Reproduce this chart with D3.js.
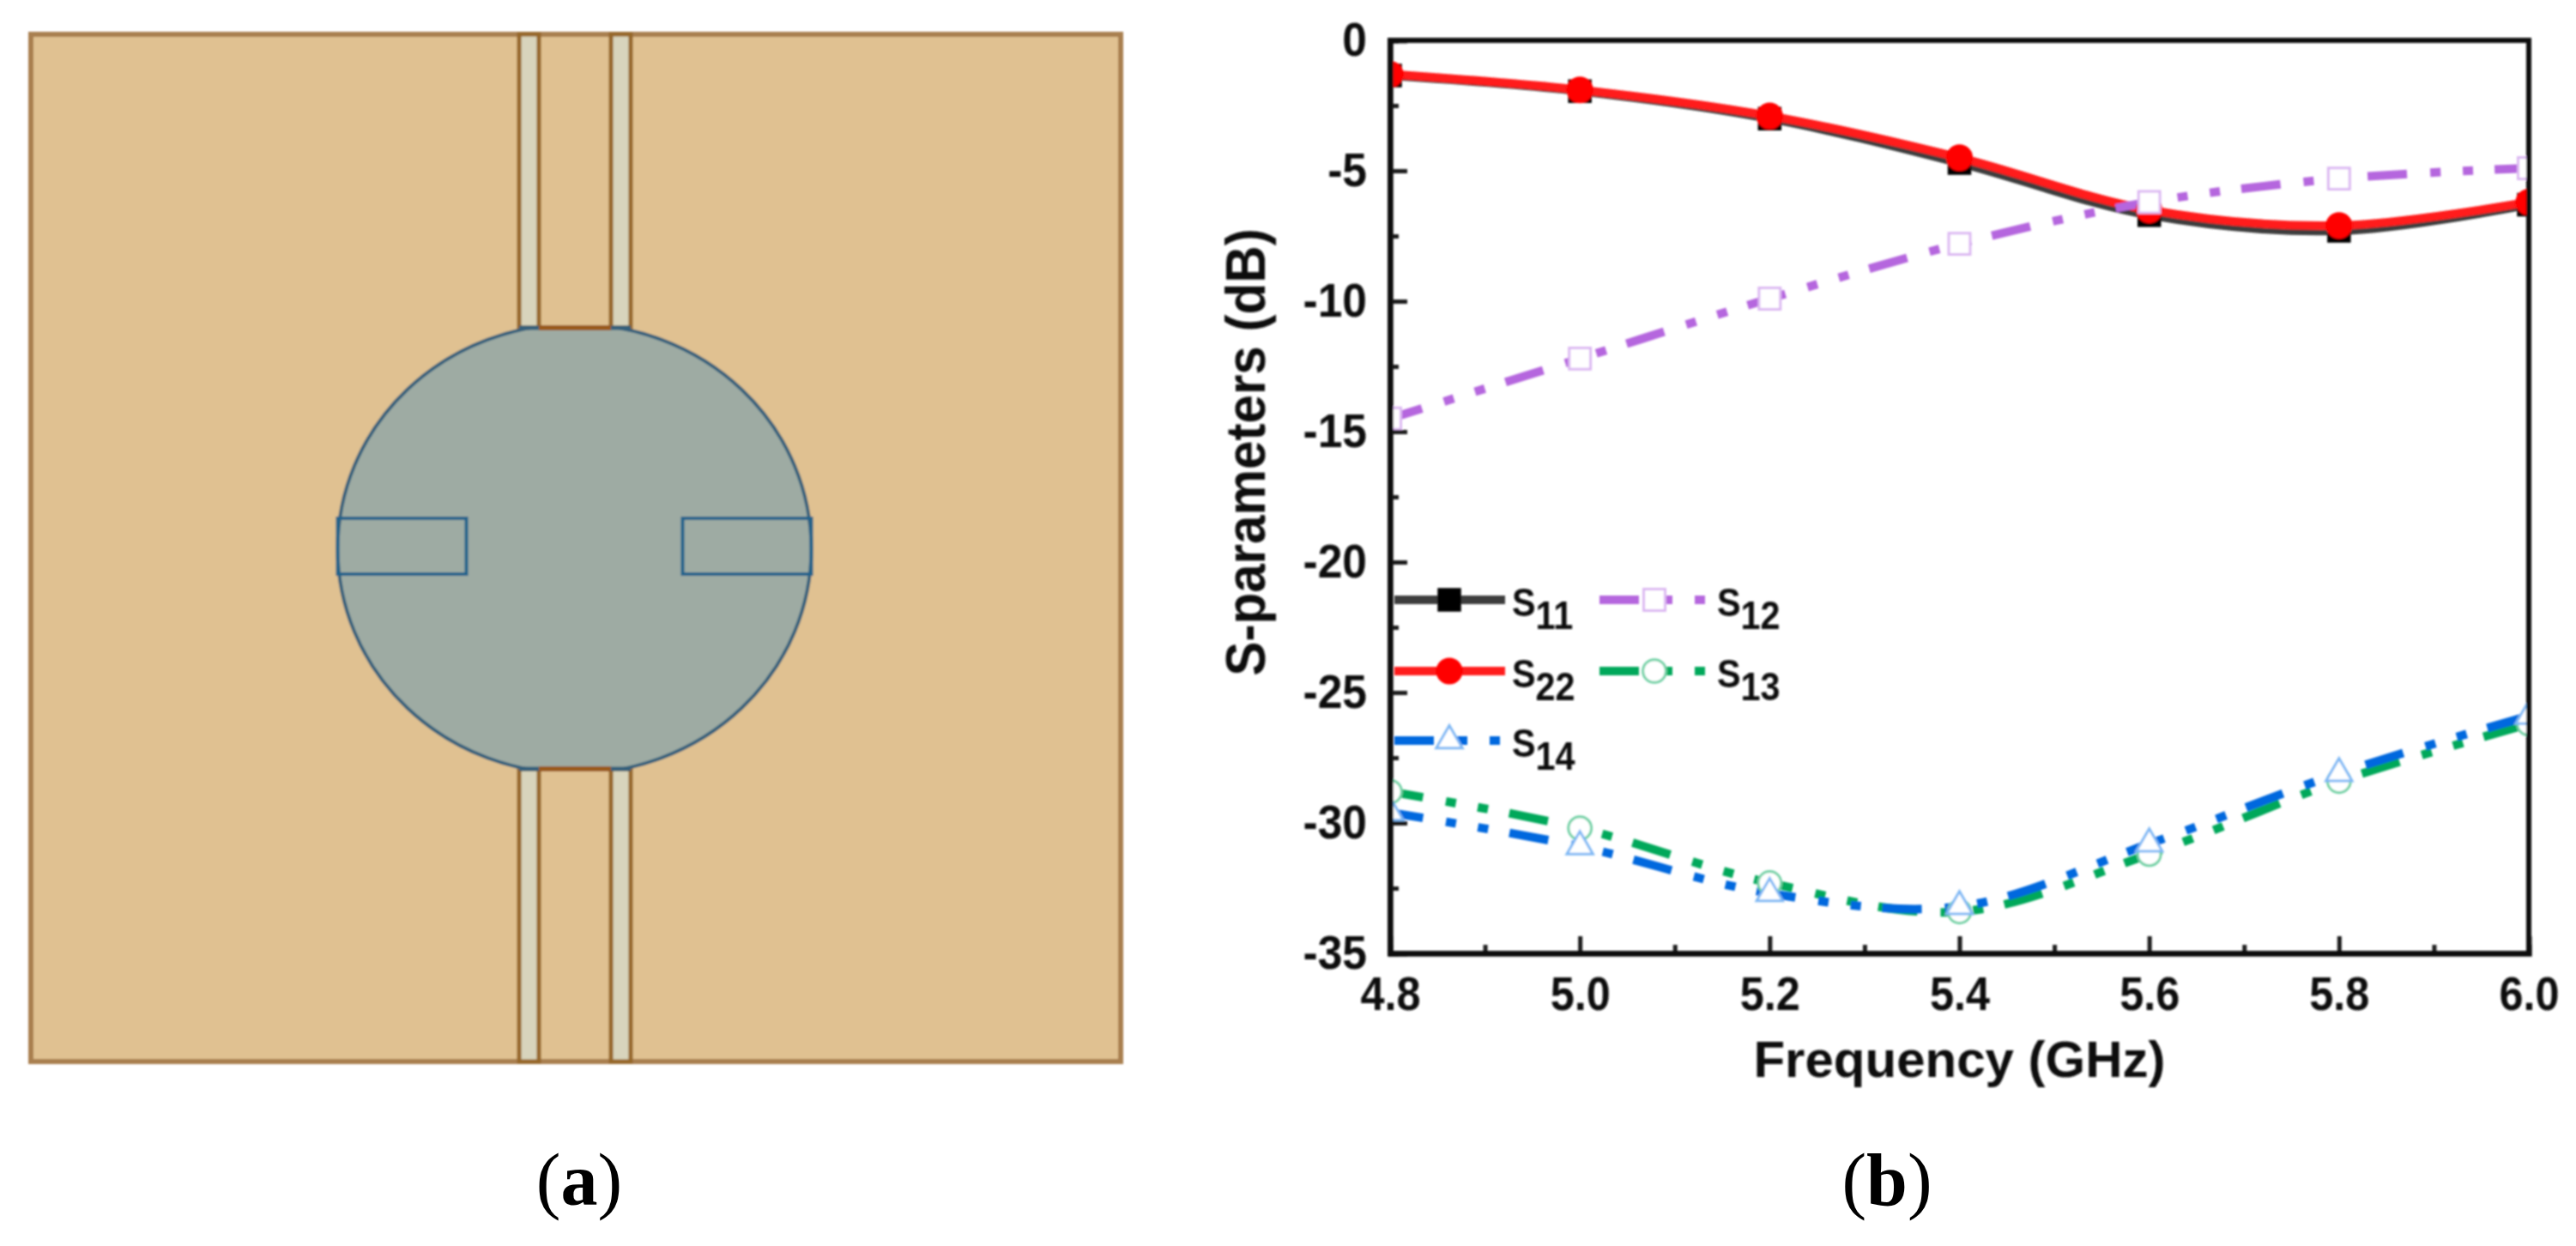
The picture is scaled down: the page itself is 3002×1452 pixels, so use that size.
<!DOCTYPE html>
<html>
<head>
<meta charset="utf-8">
<script src="https://cdnjs.cloudflare.com/ajax/libs/d3/7.8.5/d3.min.js"></script>
<style>
  html, body { margin: 0; padding: 0; background: #fff; }
  text { font-family: "Liberation Sans", Arial, sans-serif; font-weight: bold; fill: #111; }
  .axis path, .axis line { stroke: #1c1c1c; }
  .caption { font-family: "Liberation Serif", serif; font-weight: normal; font-size: 86px; fill: #000; }
</style>
</head>
<body>
<svg width="3002" height="1452"></svg>
<script>
// values
var freq = [4.8, 5.0, 5.2, 5.4, 5.6, 5.8, 6.0];
var s11 = [-1.35, -1.95, -3.0, -4.7, -6.7, -7.3, -6.3];
var s22 = [-1.3, -1.9, -2.9, -4.5, -6.5, -7.1, -6.2];
var s12 = [-14.5, -12.2, -9.9, -7.8, -6.2, -5.3, -4.9];
var s13 = [-28.8, -30.2, -32.3, -33.4, -31.2, -28.4, -26.2];
var s14 = [-29.6, -30.9, -32.7, -33.2, -30.8, -28.1, -25.9];

var xTicks = [4.8, 5.0, 5.2, 5.4, 5.6, 5.8, 6.0];
var xTickLabels = ["4.8", "5.0", "5.2", "5.4", "5.6", "5.8", "6.0"];
var xMinor = [4.9, 5.1, 5.3, 5.5, 5.7, 5.9];
var yTicks = [0, -5, -10, -15, -20, -25, -30, -35];
var yTickLabels = ["0", "-5", "-10", "-15", "-20", "-25", "-30", "-35"];
var yMinor = [-2.5, -7.5, -12.5, -17.5, -22.5, -27.5, -32.5];

var svg = d3.select("svg");
var defs = svg.append("defs");

// the source is a soft, upscaled bitmap
defs.append("filter").attr("id", "soft")
    .append("feGaussianBlur").attr("stdDeviation", 1);

// the picture is squeezed sideways, so text gets narrowed to fit
function squeeze(sel, k) {
    sel.each(function() {
        this.setAttribute("textLength", this.getComputedTextLength() * k);
        this.setAttribute("lengthAdjust", "spacingAndGlyphs");
    });
}

// ---- panel (a), the antenna layout ----
var board = {x: 36, y: 40, w: 1270, h: 1197};
var disc = {cx: 669.5, cy: 639.5, rx: 276, ry: 262, top: 382, bottom: 896};
var slotX = [[605, 628], [712, 735]];
var notch = {y: 604, h: 65, w: 150};

defs.append("clipPath").attr("id", "disc-cut")
    .append("rect")
    .attr("x", disc.cx - disc.rx - 5).attr("y", disc.top)
    .attr("width", 2 * disc.rx + 10).attr("height", disc.bottom - disc.top);

var a = svg.append("g").attr("filter", "url(#soft)");
a.append("rect")
    .attr("x", board.x).attr("y", board.y)
    .attr("width", board.w).attr("height", board.h)
    .attr("fill", "#e0c191")
    .attr("stroke", "#a97f50")
    .attr("stroke-width", 6);

[[board.y, disc.top], [disc.bottom, board.y + board.h]].forEach(function(span) {
    slotX.forEach(function(s) {
        a.append("rect")
            .attr("x", s[0]).attr("y", span[0])
            .attr("width", s[1] - s[0]).attr("height", span[1] - span[0])
            .attr("fill", "#d8d4bc")
            .attr("stroke", "#96682a")
            .attr("stroke-width", 5);
    });
});

a.append("ellipse")
    .attr("clip-path", "url(#disc-cut)")
    .attr("cx", disc.cx).attr("cy", disc.cy)
    .attr("rx", disc.rx).attr("ry", disc.ry)
    .attr("fill", "#9eaba3")
    .attr("stroke", "#35607c")
    .attr("stroke-width", 4);

[disc.top, disc.bottom].forEach(function(y) {
    a.append("line")
        .attr("x1", slotX[0][0]).attr("x2", slotX[1][1])
        .attr("y1", y).attr("y2", y)
        .attr("stroke", "#35607c")
        .attr("stroke-width", 5);
    a.append("line")
        .attr("x1", slotX[0][1]).attr("x2", slotX[1][0])
        .attr("y1", y).attr("y2", y)
        .attr("stroke", "#9a5a1c")
        .attr("stroke-width", 6);
});

[disc.cx - disc.rx, disc.cx + disc.rx - notch.w].forEach(function(x) {
    a.append("rect")
        .attr("x", x).attr("y", notch.y)
        .attr("width", notch.w).attr("height", notch.h)
        .attr("fill", "none")
        .attr("stroke", "#24648c")
        .attr("stroke-width", 4);
});

svg.append("text").attr("class", "caption")
    .attr("x", 675).attr("y", 1404).attr("text-anchor", "middle")
    .html('(<tspan font-weight="bold">a</tspan>)');
svg.append("text").attr("class", "caption")
    .attr("x", 2199).attr("y", 1404).attr("text-anchor", "middle")
    .html('(<tspan font-weight="bold">b</tspan>)');

// ---- panel (b), the S-parameters ----
var margin = {top: 47, left: 1620},
    width = 1327,
    height = 1064;

var x = d3.scaleLinear().domain([4.8, 6.0]).range([0, width]),
    y = d3.scaleLinear().domain([-35, 0]).range([height, 0]);

var b = svg.append("g").attr("filter", "url(#soft)");

var g = b.append("g")
    .attr("transform", "translate(" + margin.left + "," + margin.top + ")");

defs.append("clipPath").attr("id", "plot")
    .append("rect").attr("width", width).attr("height", height);

var dash = "46,27,12,26,12,25";
var series = [
    {values: s11, line: "#3c3c3c", mark: "#000", fill: "#000", sym: d3.symbolSquare, size: 600, dash: null},
    {values: s22, line: "#ff1a1a", mark: "#f00", fill: "#f00", sym: d3.symbolCircle, size: 620, dash: null},
    {values: s12, line: "#b566de", mark: "#dcb8f2", fill: "#fff", sym: d3.symbolSquare, size: 620, dash: dash},
    {values: s13, line: "#00a85a", mark: "#6fd0a4", fill: "#fff", sym: d3.symbolCircle, size: 560, dash: dash},
    {values: s14, line: "#0068de", mark: "#7fb8f4", fill: "#fff", sym: d3.symbolTriangle, size: 400, dash: dash}
];

var line = d3.line()
    .x(function(d) { return x(d[0]); })
    .y(function(d) { return y(d[1]); })
    .curve(d3.curveCatmullRom.alpha(0.5));

var plot = g.append("g").attr("clip-path", "url(#plot)");

series.forEach(function(s) {
    plot.append("path")
        .attr("d", line(d3.zip(freq, s.values)))
        .attr("fill", "none")
        .attr("stroke", s.line)
        .attr("stroke-width", 10)
        .attr("stroke-dasharray", s.dash)
        .attr("stroke-dashoffset", 7);
});
series.forEach(function(s) {
    plot.selectAll(null)
        .data(d3.zip(freq, s.values))
        .enter().append("path")
        .attr("d", d3.symbol().type(s.sym).size(s.size))
        .attr("transform", function(d) { return "translate(" + x(d[0]) + "," + y(d[1]) + ")"; })
        .attr("fill", s.fill)
        .attr("stroke", s.mark)
        .attr("stroke-width", 3);
});

// axes, ticks point into the plot
var xAxis = g.append("g")
    .attr("class", "axis")
    .attr("transform", "translate(0," + height + ")")
    .call(d3.axisBottom(x).tickValues(xTicks).tickSize(-20).tickPadding(26)
        .tickFormat(function(d, i) { return xTickLabels[i]; }));
var yAxis = g.append("g")
    .attr("class", "axis")
    .call(d3.axisLeft(y).tickValues(yTicks).tickSize(-20).tickPadding(27)
        .tickFormat(function(d, i) { return yTickLabels[i]; }));

g.append("g").attr("class", "axis")
    .attr("transform", "translate(0," + height + ")")
    .call(d3.axisBottom(x).tickValues(xMinor).tickSize(-10).tickFormat(""));
g.append("g").attr("class", "axis")
    .call(d3.axisLeft(y).tickValues(yMinor).tickSize(-10).tickFormat(""));

g.selectAll(".axis line").attr("stroke-width", 5);
g.selectAll(".axis path").attr("stroke-width", 6);
g.selectAll(".axis text").style("font-size", "56px").style("font-family", null);
squeeze(xAxis.selectAll("text"), 0.9);
squeeze(yAxis.selectAll("text"), 0.92);

g.append("rect")
    .attr("width", width).attr("height", height)
    .attr("fill", "none")
    .attr("stroke", "#111")
    .attr("stroke-width", 6);

g.append("text")
    .attr("x", x(5.4))
    .attr("y", 1208)
    .attr("text-anchor", "middle")
    .style("font-size", "60px")
    .text("Frequency (GHz)");

var yTitle = g.append("text")
    .attr("transform", "rotate(-90)")
    .attr("x", -480)
    .attr("y", -146)
    .attr("text-anchor", "middle")
    .style("font-size", "64px")
    .text("S-parameters (dB)");
squeeze(yTitle, 0.94);

// legend
var legendRows = [
    {s: series[0], name: "11", x: 1625, y: 699},
    {s: series[2], name: "12", x: 1864, y: 699},
    {s: series[1], name: "22", x: 1625, y: 782},
    {s: series[3], name: "13", x: 1864, y: 782},
    {s: series[4], name: "14", x: 1625, y: 863}
];

legendRows.forEach(function(r) {
    var legendRow = b.append("g")
        .attr("transform", "translate(" + r.x + "," + r.y + ")");
    legendRow.append("path")
        .attr("d", "M0,0H129")
        .attr("fill", "none")
        .attr("stroke", r.s.line)
        .attr("stroke-width", 10)
        .attr("stroke-dasharray", r.s.dash);
    legendRow.append("path")
        .attr("d", d3.symbol().type(r.s.sym).size(r.s.size))
        .attr("transform", "translate(64,0)")
        .attr("fill", r.s.fill)
        .attr("stroke", r.s.mark)
        .attr("stroke-width", 3);
    var label = legendRow.append("text")
        .attr("x", 137)
        .attr("y", 19)
        .style("font-size", "47px");
    label.append("tspan").text("S");
    label.append("tspan").attr("dy", 15).text(r.name);
    squeeze(label, 0.88);
});
</script>
</body>
</html>
